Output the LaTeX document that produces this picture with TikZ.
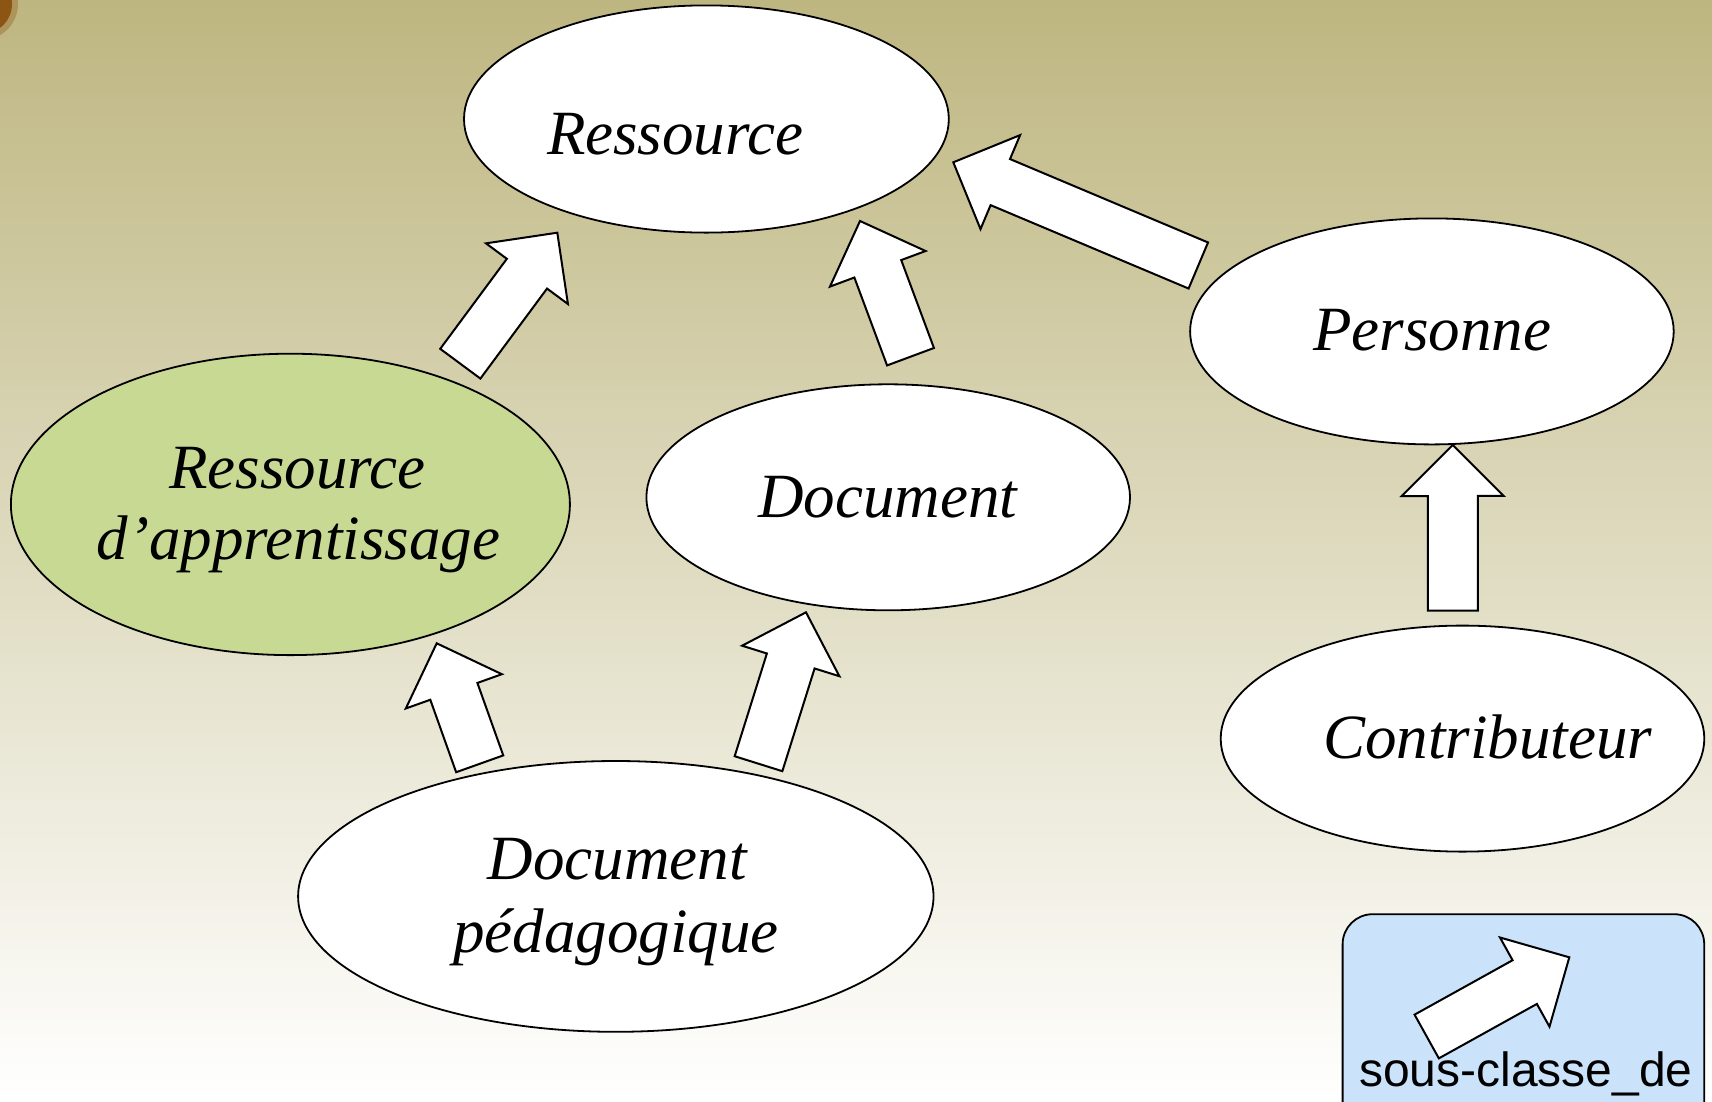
\documentclass[tikz,border=0pt]{standalone}
\usepackage{fontspec}
\setmainfont{Liberation Serif}
\newfontfamily\legendfont{Liberation Sans}
\usetikzlibrary{shapes.geometric,calc}
\definecolor{bgtop}{RGB}{190,182,128}
\definecolor{bgbot}{RGB}{255,255,255}
\definecolor{greenfill}{RGB}{200,217,148}
\definecolor{legendfill}{RGB}{202,227,250}
\definecolor{brownball}{RGB}{140,85,20}
\tikzset{
 classnode/.style={ellipse, draw=black, line width=1.8pt, fill=white, inner sep=0pt},
 classtext/.style={font=\fontsize{63}{70}\selectfont\itshape, inner sep=0pt, anchor=base},
 blockarrow/.style={draw=black, fill=white, line width=2pt, line join=miter},
}
\newcommand{\blockarr}[2]{%
  \coordinate (ba-b) at ($(#2)!51pt!(#1)$);
  \draw[blockarrow] ($(#1)!25pt!90:(#2)$) -- ($(ba-b)!25pt!90:(#2)$) -- ($(ba-b)!51pt!90:(#2)$) -- (#2) -- ($(ba-b)!51pt!-90:(#2)$) -- ($(ba-b)!25pt!-90:(#2)$) -- ($(#1)!25pt!-90:(#2)$) -- cycle;
}
\begin{document}
\begin{tikzpicture}[x=1pt,y=-1pt]
\useasboundingbox (0,0) rectangle (1712,1101);
\clip (0,0) rectangle (1712,1101);
\shade[top color=bgtop, bottom color=bgbot] (0,0) rectangle (1712,1101);
\fill[brownball!35!bgtop] (-18,4) circle (36);
\fill[brownball] (-18,4) circle (30);

% classes
\node[classnode, minimum width=484.8pt, minimum height=227.2pt] (res) at (706.4,119) {};
\node[classnode, fill=greenfill, minimum width=559pt, minimum height=301.4pt] (rda) at (290.4,504.4) {};
\node[classnode, minimum width=483.6pt, minimum height=226pt] (doc) at (888.2,497.3) {};
\node[classnode, minimum width=483.6pt, minimum height=226pt] (pers) at (1431.9,331.4) {};
\node[classnode, minimum width=483.6pt, minimum height=226pt] (contr) at (1462.5,738.6) {};
\node[classnode, minimum width=635.4pt, minimum height=270.8pt] (docped) at (615.8,896.4) {};

\node[classtext] (res-t) at (675.3,154) {Ressource};
\node[classtext] (rda-t1) at (297.5,488) {Ressource};
\node[classtext] (rda-t2) at (298.6,559) {d’apprentissage};
\node[classtext] (doc-t) at (887.6,517.5) {Document};
\node[classtext] (pers-t) at (1432,350.5) {Personne};
\node[classtext] (contr-t) at (1487.6,758.8) {Contributeur};
\node[classtext] (docped-t1) at (617.4,879) {Document};
\node[classtext] (docped-t2) at (615.8,952) {pédagogique};

% sous-classe_de arrows
\coordinate (a1t) at (460.3,363.7); \coordinate (a1h) at (557.3,232.7);
\coordinate (a2t) at (910.5,356.7); \coordinate (a2h) at (860,221);
\coordinate (a3t) at (1198.3,265.5); \coordinate (a3h) at (953.3,162.3);
\coordinate (a4t) at (1452.8,610.7); \coordinate (a4h) at (1452.7,445);
\coordinate (a5t) at (479.7,763.8); \coordinate (a5h) at (436.7,643.3);
\coordinate (a6t) at (758.5,763.7); \coordinate (a6h) at (806,612.3);
\blockarr{a1t}{a1h}
\blockarr{a2t}{a2h}
\blockarr{a3t}{a3h}
\blockarr{a4t}{a4h}
\blockarr{a5t}{a5h}
\blockarr{a6t}{a6h}

% legend
\node[draw=black, line width=1.8pt, fill=legendfill, rectangle, rounded corners=30pt,
      minimum width=361.6pt, minimum height=240pt, anchor=north west, inner sep=0pt] (legend) at (1341.7,913.3) {};
\coordinate (a7t) at (1426.7,1036.5); \coordinate (a7h) at (1569.3,957.3);
\blockarr{a7t}{a7h}
\node[font=\legendfont\fontsize{48}{54}\selectfont, anchor=base, inner sep=0pt] (legtext) at (1525.8,1086.7) {sous-classe\_de};
\end{tikzpicture}
\end{document}
